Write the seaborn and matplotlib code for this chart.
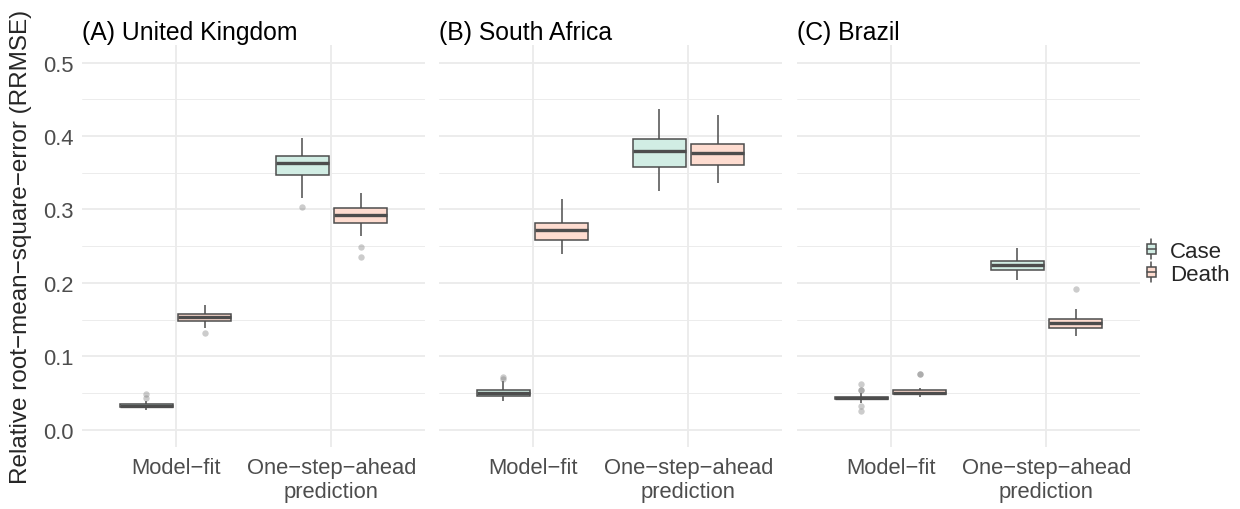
import numpy as np
import pandas as pd
import seaborn as sns
import matplotlib.pyplot as plt
from matplotlib.legend_handler import HandlerBase
from matplotlib.patches import Patch, Rectangle
from matplotlib.lines import Line2D

countries = ["(A) United Kingdom", "(B) South Africa", "(C) Brazil"]
phases = ["Model\u2212fit", "One\u2212step\u2212ahead\nprediction"]
types = ["Case", "Death"]

# RRMSE samples (quartiles, whisker ends, outliers)
uk_fit_case = [0.027, 0.029, 0.030, 0.031, 0.032, 0.0325, 0.033, 0.034, 0.035, 0.0355, 0.0395, 0.0435, 0.0485]
uk_fit_death = [0.1315, 0.1384, 0.144, 0.148, 0.150, 0.152, 0.153, 0.155, 0.157, 0.158, 0.162, 0.166, 0.1697]
uk_pred_case = [0.3035, 0.3154, 0.338, 0.3476, 0.352, 0.358, 0.3634, 0.367, 0.370, 0.3735, 0.380, 0.388, 0.397]
uk_pred_death = [0.2355, 0.249, 0.264, 0.2818, 0.286, 0.290, 0.2927, 0.296, 0.299, 0.3018, 0.308, 0.315, 0.3226]

sa_fit_case = [0.039, 0.042, 0.044, 0.0455, 0.047, 0.049, 0.050, 0.052, 0.053, 0.0544, 0.0667, 0.0695, 0.072]
sa_fit_death = [0.2387, 0.245, 0.252, 0.2582, 0.263, 0.268, 0.2722, 0.275, 0.278, 0.2818, 0.292, 0.303, 0.3144]
sa_pred_case = [0.325, 0.336, 0.347, 0.358, 0.366, 0.373, 0.379, 0.384, 0.390, 0.3953, 0.409, 0.423, 0.4374]
sa_pred_death = [0.3367, 0.344, 0.352, 0.360, 0.366, 0.372, 0.3766, 0.381, 0.385, 0.389, 0.402, 0.415, 0.428]

br_fit_case = [0.026, 0.033, 0.0365, 0.039, 0.0415, 0.042, 0.0422, 0.0426, 0.043, 0.0435, 0.044, 0.0445, 0.045,
               0.050, 0.054, 0.0545, 0.062]
br_fit_death = [0.044, 0.046, 0.047, 0.0482, 0.049, 0.050, 0.0504, 0.051, 0.052, 0.0536, 0.0563, 0.0754, 0.0758]
br_pred_case = [0.2042, 0.209, 0.213, 0.2174, 0.220, 0.222, 0.2246, 0.226, 0.228, 0.230, 0.236, 0.242, 0.2473]
br_pred_death = [0.128, 0.131, 0.135, 0.1389, 0.141, 0.143, 0.1456, 0.147, 0.149, 0.1507, 0.156, 0.165, 0.1915]

samples = {
    countries[0]: [[uk_fit_case, uk_fit_death], [uk_pred_case, uk_pred_death]],
    countries[1]: [[sa_fit_case, sa_fit_death], [sa_pred_case, sa_pred_death]],
    countries[2]: [[br_fit_case, br_fit_death], [br_pred_case, br_pred_death]],
}

rows = []
for c in countries:
    for i, p in enumerate(phases):
        for j, t in enumerate(types):
            for v in samples[c][i][j]:
                rows.append((c, p, t, v))
df = pd.DataFrame(rows, columns=["country", "phase", "type", "rrmse"])

sns.set_theme(style="white")
plt.rcParams['font.family'] = ['Liberation Sans', 'DejaVu Sans']

fill_colors = {"Case": "#d1ede4", "Death": "#fedcd0"}
edge = "#4d4d4d"
grid_col = "#ebebeb"


class BoxKey(HandlerBase):
    # small boxplot glyph like the ggplot legend key
    def create_artists(self, legend, orig_handle, xdescent, ydescent, width, height, fontsize, trans):
        cx = width / 2 - xdescent
        cy = height / 2 - ydescent
        bw = width * 0.55
        bh = height * 0.5
        wh = Line2D([cx, cx], [cy - height / 2, cy + height / 2], color=edge, lw=1.1, transform=trans)
        box = Rectangle((cx - bw / 2, cy - bh / 2), bw, bh, facecolor=orig_handle.get_facecolor(),
                        edgecolor=edge, lw=1.1, transform=trans)
        med = Line2D([cx - bw / 2, cx + bw / 2], [cy, cy], color=edge, lw=1.1, transform=trans)
        return [wh, box, med]


fig = plt.figure(figsize=(12.4, 5.1), dpi=100)
lefts = [82, 439, 797]
for k, c in enumerate(countries):
    ax = fig.add_axes([lefts[k] / 1240, 62 / 510, 343 / 1240, 402 / 510])
    sns.boxplot(data=df[df.country == c], x="phase", y="rrmse", hue="type",
                order=phases, hue_order=types, palette=fill_colors, saturation=1,
                width=0.75, gap=0.1, linecolor=edge, linewidth=1.1, showcaps=False,
                medianprops={"linewidth": 2.4, "color": edge},
                flierprops={"marker": "o", "markersize": 4.6, "markerfacecolor": "#808080",
                            "markeredgecolor": "none", "alpha": 0.4},
                legend=False, ax=ax)
    ax.set_xlim(-0.6, 1.6)
    ax.set_ylim(-0.0235, 0.524)
    ax.set_yticks(np.arange(0, 0.51, 0.1))
    ax.set_yticks(np.arange(0.05, 0.5, 0.1), minor=True)
    ax.grid(which="major", color=grid_col, linewidth=1.3)
    ax.grid(which="minor", axis="y", color=grid_col, linewidth=0.65)
    ax.set_axisbelow(True)
    for s in ax.spines.values():
        s.set_visible(False)
    ax.tick_params(which="both", length=0, labelsize=15.8, labelcolor="#4d4d4d")
    ax.tick_params(axis="x", pad=7)
    ax.tick_params(axis="y", pad=6)
    ax.set_xlabel("")
    ax.set_title(c, loc="left", fontsize=17.8, pad=4, color="black")
    if k == 0:
        ax.set_yticklabels(["0.0", "0.1", "0.2", "0.3", "0.4", "0.5"])
        ax.set_ylabel("Relative root\u2212mean\u2212square\u2212error (RRMSE)", fontsize=17.5, labelpad=8)
    else:
        ax.set_ylabel("")
        ax.tick_params(axis="y", labelleft=False)

handles = [Patch(facecolor=fill_colors[t]) for t in types]
fig.legend(handles, types, handler_map={Patch: BoxKey()}, loc="center left",
           bbox_to_anchor=(1143 / 1240, 1 - 263 / 510), frameon=False, fontsize=16,
           handlelength=0.75, handleheight=1.0, handletextpad=0.45, labelspacing=0.0,
           borderaxespad=0, borderpad=0)

fig.savefig("out.png", dpi=100)
